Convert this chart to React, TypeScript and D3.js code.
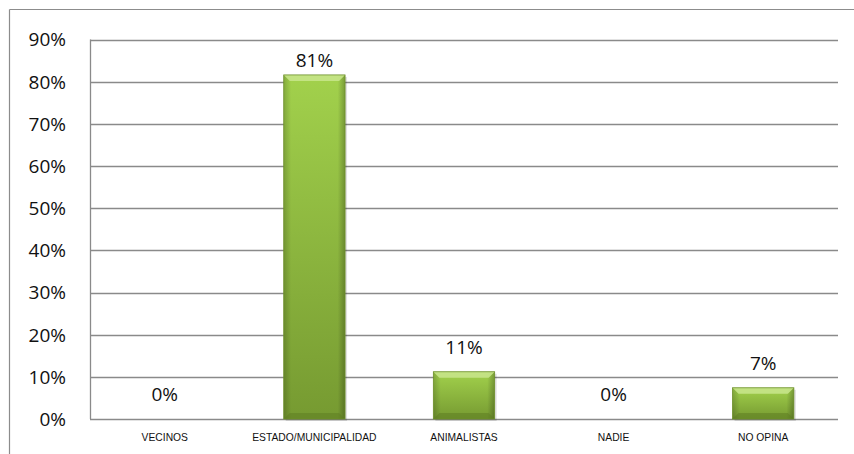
import React from "react";
import * as d3 from "d3";

const categories = ["VECINOS", "ESTADO/MUNICIPALIDAD", "ANIMALISTAS", "NADIE", "NO OPINA"];
const values = [0, 81.6, 11.2, 0, 7.4];
const labels = ["0%", "81%", "11%", "0%", "7%"];
const yTicks = [0, 10, 20, 30, 40, 50, 60, 70, 80, 90];

const W = 854;
const H = 454;
const m = { left: 90, right: 838, top: 39.5, bottom: 419 };

export default function App() {
  const x = d3.scaleBand<string>().domain(categories).range([m.left, m.right]).paddingInner(0.59).paddingOuter(0.295);
  const y = d3.scaleLinear().domain([0, 90]).range([m.bottom, m.top]);
  const bw = x.bandwidth();
  const bev = 6;
  const font = "'Open Sans', sans-serif";
  return (
    <svg width={W} height={H} style={{ position: "absolute", left: 0, top: 0 }}>
      <defs>
        <linearGradient id="barg" x1="0" y1="0" x2="0" y2="1">
          <stop offset="0%" stopColor="#a2d14c" />
          <stop offset="100%" stopColor="#769a31" />
        </linearGradient>
        <linearGradient id="barh" x1="0" y1="0" x2="1" y2="0">
          <stop offset="0%" stopColor="#000" stopOpacity={0.18} />
          <stop offset="12%" stopColor="#000" stopOpacity={0} />
          <stop offset="88%" stopColor="#000" stopOpacity={0} />
          <stop offset="100%" stopColor="#000" stopOpacity={0.25} />
        </linearGradient>
      </defs>
      <rect x={0} y={0} width={W} height={H} fill="#fff" />
      <line x1={9.5} y1={9.5} x2={854} y2={9.5} stroke="#8c8c8c" strokeWidth={1.2} />
      <line x1={9.5} y1={9.5} x2={9.5} y2={454} stroke="#8c8c8c" strokeWidth={1.2} />
      {yTicks.map((t) => (
        <g key={t}>
          <line x1={m.left} x2={m.right} y1={Math.round(y(t)) + 0.5} y2={Math.round(y(t)) + 0.5} stroke="#8a8a8a" strokeWidth={1.3} />
          <text x={66} y={y(t)} dy="0.36em" textAnchor="end" fontFamily={font} fontSize={19} fill="#111">
            {t}%
          </text>
        </g>
      ))}
      <line x1={m.left + 0.5} x2={m.left + 0.5} y1={m.top} y2={m.bottom} stroke="#8a8a8a" strokeWidth={1.3} />
      {categories.map((c, i) => {
        const x0 = x(c)!;
        const top = y(values[i]);
        const h = m.bottom - top;
        const ly = Math.max(top - 25, y(90) + 21);
        return (
          <g key={c}>
            {h > 0 && (
              <g>
                <rect x={x0 + 2} y={top + 2} width={bw} height={h} fill="#000" opacity={0.12} />
                <rect x={x0} y={top} width={bw} height={h} fill="url(#barg)" />
                <rect x={x0} y={top} width={bw} height={h} fill="url(#barh)" />
                <polygon points={`${x0},${top} ${x0 + bw},${top} ${x0 + bw - bev},${top + bev} ${x0 + bev},${top + bev}`} fill="#c6e48a" opacity={0.9} />
                <polygon points={`${x0},${top + h} ${x0 + bw},${top + h} ${x0 + bw - bev},${top + h - bev} ${x0 + bev},${top + h - bev}`} fill="#5e7d22" opacity={0.55} />
                <rect x={x0} y={top} width={bw} height={h} fill="none" stroke="#6d8f2a" strokeWidth={0.8} />
              </g>
            )}
            <text x={x0 + bw / 2} y={ly} dy="0.36em" textAnchor="middle" fontFamily={font} fontSize={19} fill="#111">
              {labels[i]}
            </text>
            <text x={x0 + bw / 2} y={437} dy="0.36em" textAnchor="middle" fontFamily="'Liberation Sans', sans-serif" fontSize={10.3} fill="#111">
              {c}
            </text>
          </g>
        );
      })}
    </svg>
  );
}
